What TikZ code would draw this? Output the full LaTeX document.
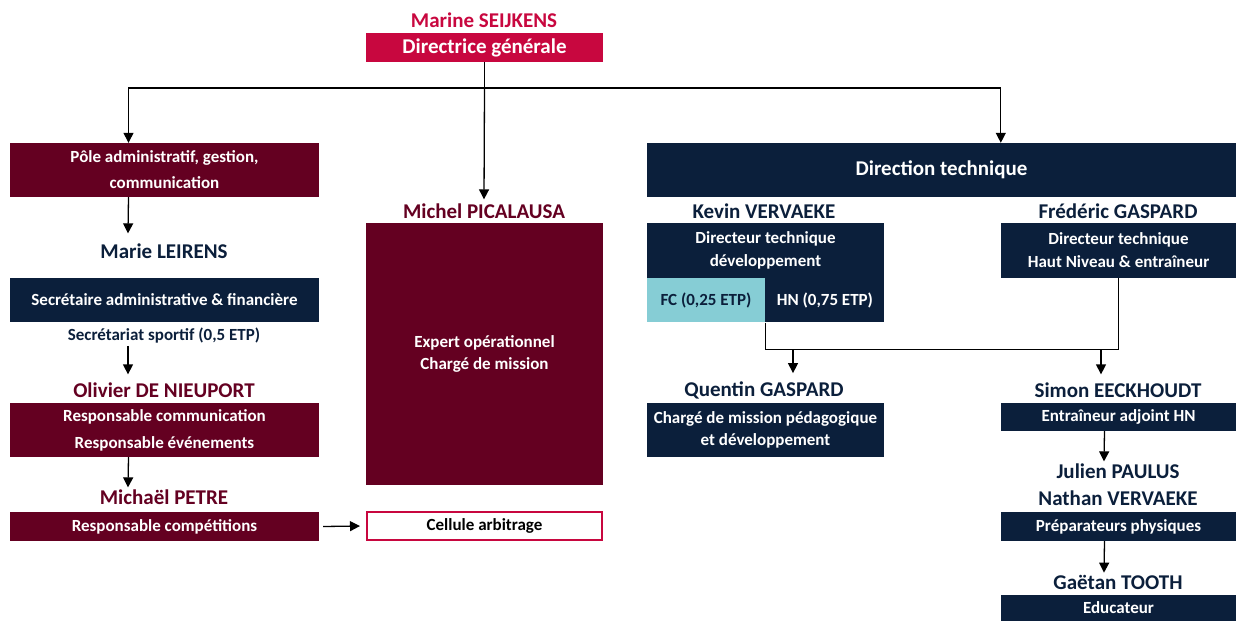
\documentclass[tikz,border=0pt]{standalone}
\usepackage{fontspec}
\setmainfont{Carlito}
\usetikzlibrary{calc,arrows.meta}
\definecolor{crimson}{HTML}{C8073F}
\definecolor{maroon}{HTML}{640021}
\definecolor{navy}{HTML}{0B1F3B}
\definecolor{fccyan}{HTML}{86CDD5}
\newcommand{\bsize}[2]{\fontsize{#1}{#2}\selectfont\bfseries}

\begin{document}
\begin{tikzpicture}[x=1pt,y=-1pt,
  >={Triangle[length=10pt,width=10pt]},
  link/.style={line width=1.3pt},
  box/.style={inner sep=0pt,align=center,text=white,font=\bsize{17}{23}},
  wide/.style={box,minimum width=309pt},
  mid/.style={box,minimum width=237pt},
  right/.style={box,minimum width=235pt},
  person/.style={inner sep=0pt,align=center,font=\bsize{21}{27}}]
  \useasboundingbox (0,0) rectangle (1236,621);

  % top
  \node[person, text=crimson] (ms) at (484,20) {Marine SEIJKENS};
  \node[mid, fill=crimson, minimum height=29pt, font=\bsize{21}{24}] (dg) at (484.5,47.5) {Directrice générale};

  % left column
  \node[wide, fill=maroon, minimum height=54pt, font=\bsize{17}{26}] (pole) at (164.5,170) {Pôle administratif, gestion,\\communication};
  \node[person, text=navy] (ml) at (164,251) {Marie LEIRENS};
  \node[wide, fill=navy, minimum height=44pt] (sec) at (164.5,300) {Secrétaire administrative \& financière};
  \node[inner sep=0pt, text=navy, font=\bsize{17}{19}] (sport) at (164,336) {Secrétariat sportif (0,5 ETP)};
  \node[person, text=maroon] (odn) at (164,390) {Olivier DE NIEUPORT};
  \node[wide, fill=maroon, minimum height=54pt, font=\bsize{17}{27}] (com) at (164.5,430) {Responsable communication\\Responsable événements};
  \node[person, text=maroon] (mpe) at (164,497) {Michaël PETRE};
  \node[wide, fill=maroon, minimum height=29pt] (comp) at (164.5,526.5) {Responsable compétitions};

  % middle column
  \node[person, text=maroon] (mp) at (484,211) {Michel PICALAUSA};
  \node[mid, fill=maroon, minimum height=262pt, font=\bsize{17}{22}] (exp) at (484.5,354) {Expert opérationnel\\Chargé de mission};
  \node[box, draw=crimson, line width=2pt, fill=white, text=black, minimum width=235pt, minimum height=28pt] (arb) at (484.5,526) {Cellule arbitrage};

  % right part
  \node[box, fill=navy, minimum width=589pt, minimum height=54pt, font=\bsize{21}{24}] (dt) at (941.5,170) {Direction technique};
  \node[person, text=navy] (kv) at (764,211) {Kevin VERVAEKE};
  \node[mid, fill=navy, minimum height=55pt] (dtd) at (765.5,250.5) {Directeur technique\\développement};
  \node[box, fill=fccyan, text=navy, minimum width=118pt, minimum height=44pt, anchor=north west] (fc) at (dtd.south west) {FC (0,25 ETP)};
  \node[box, fill=navy, minimum width=119pt, minimum height=44pt, anchor=north west] (hn) at (fc.north east) {HN (0,75 ETP)};
  \node[person, text=navy] (fg) at (1118,211) {Frédéric GASPARD};
  \node[right, fill=navy, minimum height=55pt] (dthn) at (1118.5,250.5) {Directeur technique\\Haut Niveau \& entraîneur};
  \node[person, text=navy] (qg) at (764,390) {Quentin GASPARD};
  \node[mid, fill=navy, minimum height=54pt, font=\bsize{17}{22}] (cmp) at (765.5,430) {Chargé de mission pédagogique\\et développement};
  \node[person, text=navy] (se) at (1118,390) {Simon EECKHOUDT};
  \node[right, fill=navy, minimum height=28pt] (ea) at (1118.5,417) {Entraîneur adjoint HN};
  \node[person, text=navy] (jp) at (1118,484.5) {Julien PAULUS\\Nathan VERVAEKE};
  \node[right, fill=navy, minimum height=29pt] (pp) at (1118.5,526.5) {Préparateurs physiques};
  \node[person, text=navy] (gt) at (1118,582) {Gaëtan TOOTH};
  \node[right, fill=navy, minimum height=26pt] (edu) at (1118.5,608) {Educateur};

  % connectors
  \coordinate (bar) at (484.5,88);
  \draw[link] (dg.south) -- (bar);
  \draw[link,->] (bar) -- ($(mp.north)+(0,-4)$);
  \draw[link,->] (bar) -| ($(pole.north)+(-36,0)$);
  \draw[link,->] (bar) -| (dt.north -| dthn.west);
  \draw[link,->] ($(pole.south)+(-36,0)$) -- ($(ml.north)+(-36,-10)$);
  \draw[link,->] ($(sport.south)+(-36,2)$) -- ($(odn.north)+(-36,-8)$);
  \draw[link,->] ($(com.south)+(-36,0)$) -- ($(mpe.north)+(-36,-2)$);
  \draw[link,->] ($(comp.east)+(4,0)$) -- ($(arb.west)+(-6,0)$);

  \coordinate (split) at ($(fc.south east)+(0,27)$);
  \draw[link] (fc.south east) -- (split) -| (dthn.south);
  \draw[link,->] (split -| 793,0) -- ($(qg.north)+(29,-8)$);
  \draw[link,->] (split -| 1101,0) -- ($(se.north)+(-17,-8)$);
  \draw[link,->] ($(ea.south)+(-14,0)$) -- ($(jp.north)+(-14,-2)$);
  \draw[link,->] ($(pp.south)+(-14,0)$) -- ($(gt.north)+(-14,-2)$);
\end{tikzpicture}
\end{document}
